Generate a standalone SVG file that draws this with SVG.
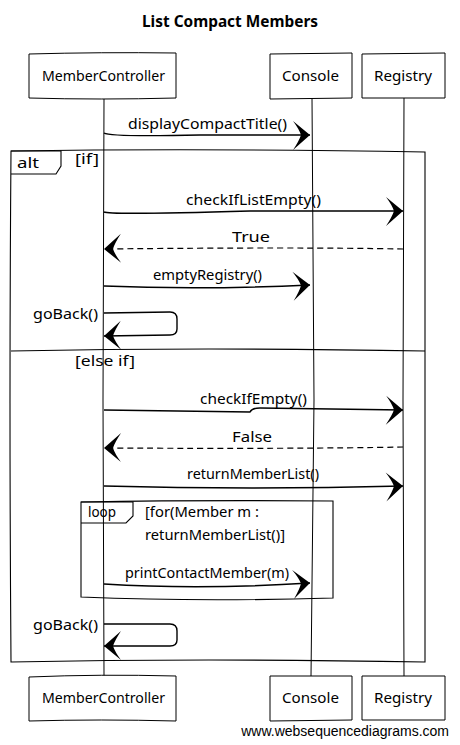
<svg xmlns="http://www.w3.org/2000/svg" width="460" height="745" viewBox="0 0 460 745">
<style>
text{font-family:"Noto Sans","DejaVu Sans",sans-serif;fill:#000}
.t{font-size:14px}
.p{font-size:15px}
.title{font-size:16px;font-weight:bold}
.box{fill:#fff;stroke:#000;stroke-width:1}
.life{stroke:#000;stroke-width:1;fill:none}
.msg{stroke:#000;stroke-width:1.4;fill:none}
.ret{stroke:#000;stroke-width:1.2;fill:none;stroke-dasharray:6,4}
.frame{fill:none;stroke:#000;stroke-width:1.1}
.foot{font-family:"Liberation Sans",Arial,sans-serif;font-size:14px}
</style>
<defs>
<marker id="ah" markerUnits="userSpaceOnUse" markerWidth="24" markerHeight="34" refX="20" refY="16" orient="auto">
<path d="M20,16 L3,2 Q9,10 11,16 Q9,22 3,31 Z" fill="#000"/>
</marker>
</defs>
<rect width="460" height="745" fill="#fff"/>
<text class="title" x="142" y="27" textLength="176" lengthAdjust="spacingAndGlyphs">List Compact Members</text>

<g id="lifelines">
<path class="life" d="M104,98 L103,400 L104,676"/>
<path class="life" d="M312,98 L314,400 L311,676"/>
<path class="life" d="M404,98 L403,400 L404,676"/>
</g>

<g id="frames">
<path id="alt" class="frame" d="M11,151 Q200,148 425,152 Q424,400 425,662 Q200,658 11,662 Q9,400 11,151 Z"/>
<path class="frame" d="M11,151 L61,151 L61,166 L56,174 L11,174"/>
<text class="t" x="17" y="168" textLength="22" lengthAdjust="spacingAndGlyphs">alt</text>
<text class="t" x="75" y="164" textLength="24" lengthAdjust="spacingAndGlyphs">[if]</text>
<path class="frame" d="M11,351 Q200,347 425,351"/>
<text class="t" x="75" y="366" textLength="60" lengthAdjust="spacingAndGlyphs">[else if]</text>
<path id="loop" class="frame" d="M81,502 Q200,500 333,501 L333,598 Q200,602 81,597 Z"/>
<path class="frame" d="M81,502 L133,502 L133,516 L126,523 L81,523"/>
<text class="t" x="88" y="517" textLength="28" lengthAdjust="spacingAndGlyphs">loop</text>
<text class="t" x="145" y="517" textLength="114" lengthAdjust="spacingAndGlyphs">[for(Member m :</text>
<text class="t" x="145" y="540" textLength="140" lengthAdjust="spacingAndGlyphs">returnMemberList()]</text>
</g>

<g id="connectors">
<path class="msg" marker-end="url(#ah)" d="M104,133 Q110,137 200,135 L310,135"/>
<text class="t" x="128" y="129" textLength="159" lengthAdjust="spacingAndGlyphs">displayCompactTitle()</text>

<path class="msg" marker-end="url(#ah)" d="M104,212 Q110,215 250,211 L403,211"/>
<text class="t" x="186" y="205" textLength="135" lengthAdjust="spacingAndGlyphs">checkIfListEmpty()</text>

<path class="ret" marker-end="url(#ah)" d="M403,249 Q300,247 104,249"/>
<text class="t" x="232" y="242" textLength="38" lengthAdjust="spacingAndGlyphs">True</text>

<path class="msg" marker-end="url(#ah)" d="M104,286 Q200,290 310,285"/>
<text class="t" x="153" y="280" textLength="109" lengthAdjust="spacingAndGlyphs">emptyRegistry()</text>

<path class="msg" marker-end="url(#ah)" d="M104,313 L170,312 Q177,312 177,319 L177,329 Q177,335 170,335 L104,336"/>
<text class="t" x="33" y="319" textLength="65" lengthAdjust="spacingAndGlyphs">goBack()</text>

<path class="msg" marker-end="url(#ah)" d="M104,410 L250,412 Q252,408 260,408 L403,410"/>
<text class="t" x="200" y="404" textLength="107" lengthAdjust="spacingAndGlyphs">checkIfEmpty()</text>

<path class="ret" marker-end="url(#ah)" d="M403,447 Q300,449 104,448"/>
<text class="t" x="232" y="442" textLength="40" lengthAdjust="spacingAndGlyphs">False</text>

<path class="msg" marker-end="url(#ah)" d="M104,486 Q250,490 403,486"/>
<text class="t" x="187" y="479" textLength="132" lengthAdjust="spacingAndGlyphs">returnMemberList()</text>

<path class="msg" marker-end="url(#ah)" d="M104,584 Q200,590 310,583"/>
<text class="t" x="125" y="578" textLength="164" lengthAdjust="spacingAndGlyphs">printContactMember(m)</text>

<path class="msg" marker-end="url(#ah)" d="M104,624 L170,624 Q177,624 177,631 L177,640 Q177,646 170,646 L104,646"/>
<text class="t" x="33" y="630" textLength="65" lengthAdjust="spacingAndGlyphs">goBack()</text>
</g>

<g id="p-mc-top"><path class="box" d="M29,54 Q100,52 176,53 L176,98 Q100,100 29,98 Z"/><text class="p" x="42" y="81" textLength="123" lengthAdjust="spacingAndGlyphs">MemberController</text></g>
<g id="p-console-top"><path class="box" d="M270,54 L352,53 L352,98 L270,99 Z"/><text class="p" x="282" y="81" textLength="57" lengthAdjust="spacingAndGlyphs">Console</text></g>
<g id="p-registry-top"><path class="box" d="M362,54 L445,53 L445,98 L362,98 Z"/><text class="p" x="374" y="81" textLength="58" lengthAdjust="spacingAndGlyphs">Registry</text></g>

<g id="p-mc-bot"><path class="box" d="M29,677 Q100,674 176,676 L176,721 Q100,719 29,721 Z"/><text class="p" x="42" y="703" textLength="123" lengthAdjust="spacingAndGlyphs">MemberController</text></g>
<g id="p-console-bot"><path class="box" d="M270,676 L352,676 L352,720 L270,721 Z"/><text class="p" x="282" y="703" textLength="57" lengthAdjust="spacingAndGlyphs">Console</text></g>
<g id="p-registry-bot"><path class="box" d="M362,676 L445,676 L445,720 L362,720 Z"/><text class="p" x="374" y="703" textLength="58" lengthAdjust="spacingAndGlyphs">Registry</text></g>

<text class="foot" x="449" y="736" text-anchor="end">www.websequencediagrams.com</text>
</svg>
